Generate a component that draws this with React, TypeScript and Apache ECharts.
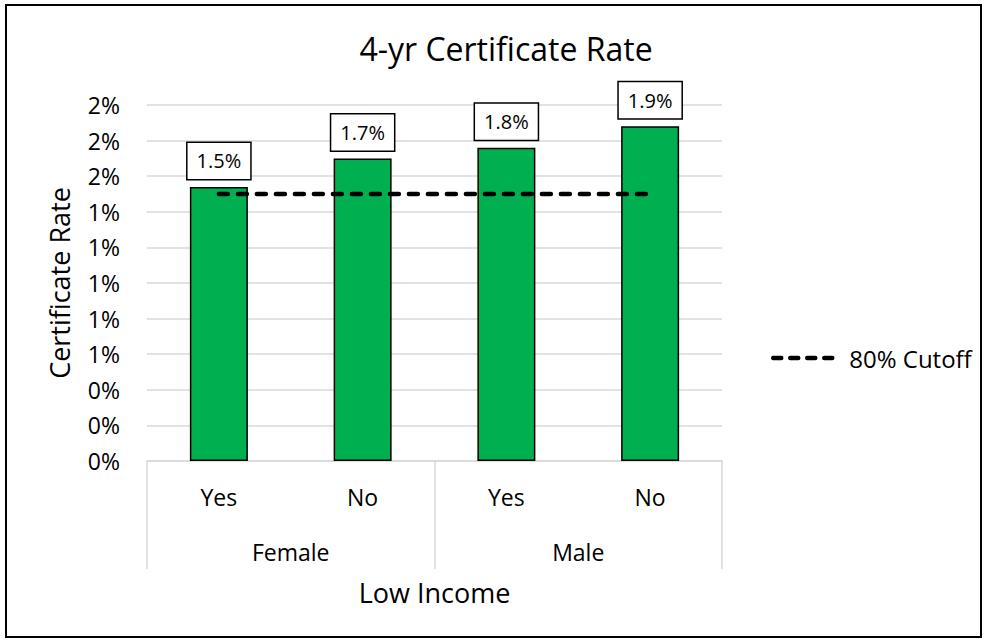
import React, { useEffect, useRef } from "react";
import * as echarts from "echarts";

const incomeLabels = ["Yes", "No", "Yes", "No"];
const genderLabels = ["Female", "Male"];
const rates = [1.54, 1.7, 1.76, 1.88];
const cutoff = [1.5, 1.5, 1.5, 1.5];
const yTicks = { min: 0, max: 2, interval: 0.2 };
const FONT = "'Open Sans', 'Noto Sans', sans-serif";

export default function App() {
  const ref = useRef<HTMLDivElement>(null);
  useEffect(() => {
    if (!ref.current) return;
    const chart = echarts.init(ref.current, null, { renderer: "svg" });
    chart.setOption({
      animation: false,
      backgroundColor: "#fff",
      textStyle: { fontFamily: FONT },
      title: {
        text: "4-yr Certificate Rate",
        left: 501,
        top: 27,
        textAlign: "center",
        textStyle: { fontFamily: FONT, fontSize: 32, fontWeight: "normal", color: "#000" },
      },
      legend: {
        data: ["80% Cutoff"],
        left: 771,
        top: 346,
        padding: 0,
        itemWidth: 68,
        itemHeight: 14,
        itemGap: 10,
        itemStyle: { opacity: 0 },
        lineStyle: { width: 4.5, type: [8, 9], cap: "round", color: "#000" },
        textStyle: { fontFamily: FONT, fontSize: 24, color: "#000", padding: [0, 0, 0, 3] },
      },
      grid: { left: 147, right: 265, top: 105, bottom: 181 },
      xAxis: [
        {
          type: "category",
          data: incomeLabels,
          position: "bottom",
          axisLine: { show: true, lineStyle: { color: "#d9d9d9", width: 1.5 } },
          axisTick: { show: false },
          axisLabel: { margin: 24, fontSize: 23, color: "#000", fontFamily: FONT },
          name: "Low Income",
          nameLocation: "middle",
          nameGap: 118,
          nameTextStyle: { fontSize: 27, color: "#000", fontFamily: FONT },
        },
        {
          type: "category",
          data: genderLabels,
          position: "bottom",
          axisLine: { show: false },
          axisTick: { show: true, interval: 0, length: 108, lineStyle: { color: "#d9d9d9", width: 1.5 } },
          axisLabel: { margin: 79, fontSize: 23, color: "#000", fontFamily: FONT },
        },
      ],
      yAxis: {
        type: "value",
        min: yTicks.min,
        max: yTicks.max,
        interval: yTicks.interval,
        axisLine: { show: false },
        axisTick: { show: false },
        splitLine: { lineStyle: { color: "#d9d9d9", width: 1.5 } },
        axisLabel: {
          margin: 27,
          fontSize: 23,
          color: "#000",
          fontFamily: FONT,
          formatter: (v: number) => Math.round(v) + "%",
        },
        name: "Certificate Rate",
        nameLocation: "middle",
        nameGap: 74,
        nameTextStyle: { fontSize: 27, color: "#000", fontFamily: FONT },
      },
      series: [
        {
          type: "bar",
          name: "Rate",
          xAxisIndex: 0,
          data: rates,
          barWidth: 58,
          itemStyle: { color: "#00B050", borderColor: "#000", borderWidth: 1.5 },
          label: {
            show: true,
            position: "top",
            distance: 8,
            formatter: (p: any) => p.value.toFixed(1) + "%",
            backgroundColor: "#fff",
            borderColor: "#000",
            borderWidth: 1.5,
            padding: [8, 9, 8, 9],
            fontSize: 20,
            color: "#000",
            fontFamily: FONT,
          },
          z: 2,
        },
        {
          type: "line",
          name: "80% Cutoff",
          xAxisIndex: 0,
          data: cutoff,
          symbol: "none",
          lineStyle: { color: "#000", width: 4.5, type: [9, 10], cap: "round" },
          itemStyle: { color: "#000" },
          z: 3,
        },
      ],
      graphic: [
        {
          type: "rect",
          shape: { x: 6, y: 5, width: 975, height: 632 },
          style: { fill: "none", stroke: "#000", lineWidth: 2 },
          silent: true,
        },
      ],
    });
    return () => chart.dispose();
  }, []);
  return (
    <div
      ref={ref}
      style={{ position: "fixed", left: 0, top: 0, width: 987, height: 642 }}
    />
  );
}
